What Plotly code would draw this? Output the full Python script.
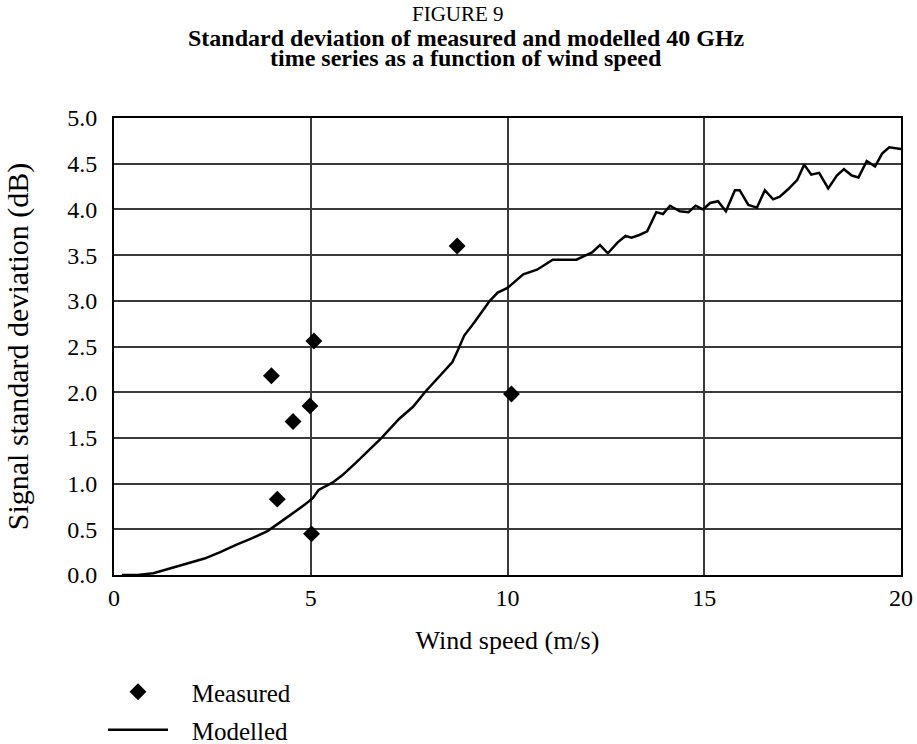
import plotly.graph_objects as go

# Measured points
meas_x = [4.0, 4.55, 4.98, 5.08, 4.15, 5.02, 8.72, 10.1]
meas_y = [2.18, 1.68, 1.85, 2.56, 0.83, 0.45, 3.60, 1.98]

# Modelled curve
mod_x = [0.2, 0.6, 1.0, 1.5, 1.9, 2.3, 2.7, 3.1, 3.5, 3.9, 4.2, 4.5, 4.85, 5.05, 5.2,
         5.55, 5.8, 6.15, 6.55, 6.8, 7.25, 7.6, 7.9, 8.2, 8.6, 8.75, 8.9, 9.15, 9.55,
         9.75, 10.0, 10.4, 10.75, 11.15, 11.75, 12.15, 12.35, 12.55, 12.8, 13.0, 13.15,
         13.35, 13.55, 13.78, 13.95, 14.13, 14.38, 14.6, 14.78, 14.97, 15.15, 15.35,
         15.55, 15.78, 15.9, 16.12, 16.34, 16.54, 16.75, 16.92, 17.13, 17.36, 17.54,
         17.72, 17.92, 18.15, 18.37, 18.55, 18.75, 18.92, 19.13, 19.34, 19.52, 19.7,
         19.9, 20.0]
mod_y = [0.0, 0.0, 0.02, 0.08, 0.13, 0.18, 0.25, 0.33, 0.40, 0.48, 0.57, 0.66, 0.77,
         0.84, 0.93, 1.01, 1.09, 1.23, 1.39, 1.50, 1.71, 1.84, 2.0, 2.14, 2.33, 2.47,
         2.62, 2.76, 3.0, 3.09, 3.14, 3.29, 3.34, 3.45, 3.45, 3.53, 3.61, 3.52, 3.64,
         3.71, 3.69, 3.72, 3.76, 3.97, 3.95, 4.04, 3.98, 3.97, 4.04, 4.0, 4.07, 4.09,
         3.98, 4.21, 4.21, 4.05, 4.02, 4.21, 4.11, 4.14, 4.22, 4.32, 4.49, 4.38, 4.40,
         4.23, 4.37, 4.44, 4.37, 4.35, 4.53, 4.47, 4.61, 4.68, 4.67, 4.66]

x_ticks = [0, 5, 10, 15, 20]
y_ticks = [0.0, 0.5, 1.0, 1.5, 2.0, 2.5, 3.0, 3.5, 4.0, 4.5, 5.0]
y_tick_text = ["%.1f" % v for v in y_ticks]

FONT = "Liberation Serif, Times New Roman, serif"
NB = "\u00a0\u00a0\u00a0"

# plot area is 114..901 x 118..575 in page pixels (body margin removed below)
PL, PR, PT, PB = 114, 16, 118, 169
PH = 744 - PT - PB


def py(page_y):
    return (744 - PB - page_y) / PH


def px(page_x):
    return (page_x - PL) / (917 - PL - PR)


fig = go.Figure()
fig.add_trace(go.Scatter(
    x=meas_x, y=meas_y, mode="markers", name=NB + "Measured",
    marker=dict(symbol="diamond", size=13, color="black"),
    legend="legend", showlegend=True, cliponaxis=False))
fig.add_trace(go.Scatter(
    x=mod_x, y=mod_y, mode="lines", name=NB + "Modelled",
    line=dict(color="black", width=2.5),
    legend="legend2", showlegend=True))

axis_common = dict(showline=True, linecolor="black", linewidth=2, mirror=True,
                   showgrid=True, gridcolor="#3a3a3a", gridwidth=1.5,
                   zeroline=False, ticks="", tickfont=dict(size=24, color="black"))

fig.update_layout(
    width=917, height=744,
    margin=dict(l=PL, r=PR, t=PT, b=PB, autoexpand=False),
    paper_bgcolor="white", plot_bgcolor="white",
    font=dict(family=FONT, color="black"),
    showlegend=True,
    xaxis=dict(range=[0, 20], tickvals=x_ticks, ticklabelstandoff=0,
               title=dict(text="Wind speed (m/s)", font=dict(size=26), standoff=21),
               **axis_common),
    yaxis=dict(range=[0, 5], tickvals=y_ticks, ticktext=y_tick_text, ticklabelstandoff=10,
               title=dict(text="Signal standard deviation (dB)", font=dict(size=30), standoff=30),
               **axis_common),
    legend=dict(x=px(103), y=py(669), xanchor="left", yanchor="top", itemwidth=60,
                font=dict(size=25), bgcolor="rgba(0,0,0,0)"),
    legend2=dict(x=px(103), y=py(707), xanchor="left", yanchor="top", itemwidth=60,
                 font=dict(size=25), bgcolor="rgba(0,0,0,0)"),
    annotations=[
        dict(text="FIGURE 9", xref="paper", yref="paper", x=px(458), y=py(14),
             showarrow=False, font=dict(size=21), xanchor="center", yanchor="middle"),
        dict(text="<b>Standard deviation of measured and modelled 40 GHz</b>",
             xref="paper", yref="paper", x=px(466), y=py(38), showarrow=False,
             font=dict(size=24), xanchor="center", yanchor="middle"),
        dict(text="<b>time series as a function of wind speed</b>",
             xref="paper", yref="paper", x=px(466), y=py(58), showarrow=False,
             font=dict(size=24), xanchor="center", yanchor="middle"),
    ],
)

fig.write_html("out.html", config={"displayModeBar": False},
               post_script="document.body.style.margin='0';document.body.style.padding='0';")
